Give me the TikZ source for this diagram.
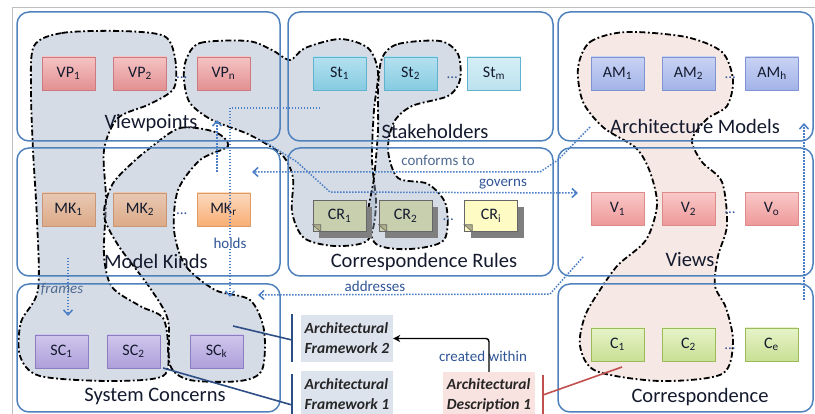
\documentclass[tikz,border=0pt]{standalone}
\usepackage{fontspec}
\setmainfont{Carlito}
\usetikzlibrary{positioning,arrows.meta,calc,shadows}

\definecolor{paneline}{HTML}{4F81BD}
\definecolor{relblue}{HTML}{4A7EC6}
\definecolor{labink}{HTML}{141A2E}
\definecolor{relink}{HTML}{2F5597}
\definecolor{relgrey}{HTML}{506A90}
\definecolor{afgrey}{HTML}{96A7C0}
\definecolor{adpink}{HTML}{E8C5BE}
\definecolor{vptop}{HTML}{F5C3C3}
\definecolor{vpbot}{HTML}{E39092}
\definecolor{vpedge}{HTML}{CC7A7D}
\definecolor{sttop}{HTML}{B3E1F0}
\definecolor{stbot}{HTML}{86CBE1}
\definecolor{stedge}{HTML}{5FB3CE}
\definecolor{amtop}{HTML}{C9D3F4}
\definecolor{ambot}{HTML}{A2B3E8}
\definecolor{amedge}{HTML}{7F93D3}
\definecolor{mktop}{HTML}{FCD9BE}
\definecolor{mkbot}{HTML}{F8AE74}
\definecolor{mkedge}{HTML}{E29A63}
\definecolor{mgtop}{HTML}{E8C8B2}
\definecolor{mgbot}{HTML}{DCAA88}
\definecolor{mgedge}{HTML}{C89677}
\definecolor{vwtop}{HTML}{FAC8C8}
\definecolor{vwbot}{HTML}{EE9898}
\definecolor{vwedge}{HTML}{DC8A8A}
\definecolor{sctop}{HTML}{CFC6EC}
\definecolor{scbot}{HTML}{AE9FDA}
\definecolor{scedge}{HTML}{8E7CC3}
\definecolor{cotop}{HTML}{E6F3C8}
\definecolor{cobot}{HTML}{C8E094}
\definecolor{coedge}{HTML}{9BBB59}
\definecolor{crfill}{HTML}{FFFBC4}
\definecolor{crgrey}{HTML}{C8CFAE}
\definecolor{crshade}{HTML}{7F7F7F}
\definecolor{afbox}{HTML}{DDE3ED}
\definecolor{adbox}{HTML}{F9E3E0}
\definecolor{afbar}{HTML}{2E4E86}
\definecolor{adbar}{HTML}{C0504D}

\newcommand\elemfont{\fontsize{16}{18}\selectfont}
\newcommand\panelfont{\fontsize{20.5}{24}\selectfont}
\newcommand\relfont{\fontsize{15}{17}\selectfont}
\newcommand\docfont{\fontsize{15.5}{20}\selectfont\bfseries\itshape}

\tikzset{
  panel/.style={draw=paneline, line width=1.5pt, rounded corners=12pt, minimum height=129pt, inner sep=0pt},
  elem/.style={draw=#1edge, top color=#1top, bottom color=#1bot, line width=0.8pt,
    minimum width=53pt, minimum height=33pt, inner sep=0pt, font=\elemfont, text=labink},
  crnote/.style={draw=black!60, fill=#1, line width=0.6pt, minimum width=53pt, minimum height=31pt,
    inner sep=0pt, font=\elemfont, text=labink,
    drop shadow={shadow xshift=6pt, shadow yshift=-7pt, fill=crshade, opacity=1}},
  gap/.style={font=\relfont, text=relink, inner sep=0pt},
  plabel/.style={font=\panelfont, text=labink, inner sep=0pt},
  rlabel/.style={font=\relfont, text=relink, inner sep=0pt},
  blob/.style={draw=black, line width=1.8pt, dash pattern=on 6pt off 2.5pt on 1.8pt off 2.5pt, fill opacity=0.4},
  rel/.style={draw=relblue, line width=1.5pt, dash pattern=on 1.5pt off 1.5pt,
    -{Straight Barb[length=5pt,width=9pt]}},
  docbox/.style={minimum width=92pt, minimum height=47pt, inner sep=0pt, align=left, font=\docfont, text=black!85},
  docbar/.style={line width=2.4pt},
}

\begin{document}
\begin{tikzpicture}[x=1pt,y=-1pt]
\useasboundingbox (0,0) rectangle (815,414);
\draw[black!25, line width=0.8pt] (12,414) -- (12,7) -- (815,7);

% Architectural framework 1
\fill[afgrey, blob] plot[smooth cycle] coordinates {(34,46) (62,33) (120,31) (164,36) (175,58) (174,88)
  (150,104) (118,118) (104,150) (106,200) (104,255) (112,287) (140,306) (163,318) (168,348) (163,376)
  (110,381) (40,376) (20,356) (21,322) (38,290) (37,220) (33,150) (31,90)};
% Architectural framework 2
\fill[afgrey, blob] plot[smooth cycle] coordinates {(186,60) (200,43) (248,41) (272,50) (290,60) (305,48)
  (340,39) (368,48) (378,72) (374,110) (372,160) (376,205) (368,240) (335,246) (304,238) (292,212)
  (293,178) (282,155) (250,135) (212,120) (190,103) (184,80)};
\fill[afgrey, blob] plot[smooth cycle] coordinates {(382,58) (398,44) (440,41) (458,54) (460,80) (448,96)
  (412,106) (394,122) (388,150) (398,178) (428,184) (446,205) (444,240) (410,249) (376,244) (368,215)
  (374,178) (378,130) (378,90)};
\fill[afgrey, blob] plot[smooth cycle] coordinates {(150,148) (180,128) (215,132) (228,146) (200,160)
  (178,190) (174,230) (185,265) (215,290) (250,300) (264,330) (262,370) (240,381) (190,380) (170,365)
  (168,320) (150,288) (118,245) (104,215) (112,185) (130,165)};
% Architectural description 1
\fill[adpink, blob] plot[smooth cycle] coordinates {(578,68) (590,42) (626,32) (686,37) (722,52) (733,80)
  (727,106) (707,119) (692,140) (702,162) (722,182) (727,225) (718,256) (715,286) (726,308) (733,342)
  (722,374) (660,381) (596,371) (580,346) (585,316) (600,290) (618,265) (646,240) (657,205) (650,172)
  (636,148) (604,128) (583,102)};

% Elements in the three columns
\node[elem=vp] (vp1) at (68.5,73.5) {VP\textsubscript{1}};
\node[elem=vp] (vp2) at (140,73.5) {VP\textsubscript{2}};
\node[elem=vp] (vpn) at (223.5,73.5) {VP\textsubscript{n}};
\node[elem=st] (st1) at (339.5,73.5) {St\textsubscript{1}};
\node[elem=st] (st2) at (410.5,73.5) {St\textsubscript{2}};
\node[elem=st, top color=sttop!55, bottom color=stbot!55] (stm) at (494,73.5) {St\textsubscript{m}};
\node[elem=am] (am1) at (617.5,73.5) {AM\textsubscript{1}};
\node[elem=am] (am2) at (688.5,73.5) {AM\textsubscript{2}};
\node[elem=am] (amh) at (772,73.5) {AM\textsubscript{h}};

\node[elem=mg] (mk1) at (68.5,209.5) {MK\textsubscript{1}};
\node[elem=mg] (mk2) at (140,209.5) {MK\textsubscript{2}};
\node[elem=mk] (mkr) at (223.5,209.5) {MK\textsubscript{r}};
\node[crnote=crgrey] (cr1) at (339.5,216) {CR\textsubscript{1}};
\node[crnote=crgrey] (cr2) at (405.5,216) {CR\textsubscript{2}};
\node[crnote=crfill] (cri) at (491,216) {CR\textsubscript{i}};
\foreach \n in {cr1,cr2,cri} {
  \draw[black!60, fill=crfill!70!black, line width=0.6pt]
    ($(\n.south west)+(0,-7)$) -- ($(\n.south west)+(8,-7)$) -- ($(\n.south west)+(8,0)$) -- cycle;
}
\node[elem=vw] (v1) at (617.5,209) {V\textsubscript{1}};
\node[elem=vw] (v2) at (688.5,209) {V\textsubscript{2}};
\node[elem=vw] (vo) at (771.5,209) {V\textsubscript{o}};

\node[elem=sc] (sc1) at (61.5,351.5) {SC\textsubscript{1}};
\node[elem=sc] (sc2) at (133.5,351.5) {SC\textsubscript{2}};
\node[elem=sc] (sck) at (216.5,351.5) {SC\textsubscript{k}};
\node[elem=co] (c1) at (617.5,344.5) {C\textsubscript{1}};
\node[elem=co] (c2) at (688.5,344.5) {C\textsubscript{2}};
\node[elem=co] (ce) at (771.5,344.5) {C\textsubscript{e}};

% Dots between elements
\node[gap] (dvp) at ($(vp2.east)!0.5!(vpn.west)+(0,4)$) {...};
\node[gap] (dst) at ($(st2.east)!0.5!(stm.west)+(0,4)$) {...};
\node[gap] (dam) at ($(am2.east)!0.5!(amh.west)+(0,4)$) {...};
\node[gap] (dmk) at ($(mk2.east)!0.5!(mkr.west)+(0,4)$) {...};
\node[gap] (dcr) at ($(cr2.east)!0.5!(cri.west)+(0,4)$) {...};
\node[gap] (dvw) at ($(v2.east)!0.5!(vo.west)+(0,4)$) {...};
\node[gap] (dco) at ($(c2.east)!0.5!(ce.west)+(0,4)$) {...};

% Panels
\node[panel, minimum width=263pt] (pvp) at (148.5,76.5) {};
\node[panel, minimum width=265pt] (pst) at (420.5,76.5) {};
\node[panel, minimum width=255pt] (pam) at (685.5,76.5) {};
\node[panel, minimum width=263pt, minimum height=128pt] (pmk) at (148.5,212) {};
\node[panel, minimum width=265pt, minimum height=128pt] (pcr) at (420.5,212) {};
\node[panel, minimum width=255pt, minimum height=128pt] (pvw) at (685.5,212) {};
\node[panel, minimum width=263pt, minimum height=128pt] (psc) at (148.5,348) {};
\node[panel, minimum width=255pt, minimum height=128pt] (pco) at (685.5,348) {};

\node[plabel] (lvp) at (151,123) {Viewpoints};
\node[plabel] (lst) at (435,131) {Stakeholders};
\node[plabel] (lam) at (695,126) {Architecture Models};
\node[plabel] (lmk) at (156,261) {Model Kinds};
\node[plabel] (lcr) at (424,262) {Correspondence Rules};
\node[plabel] (lvw) at (690,260) {Views};
\node[plabel] (lsc) at (155,397) {System Concerns};
\node[plabel] (lco) at (700,397) {Correspondence};

% Relations between panels
\coordinate (hold0) at (320,108);
\coordinate (hold1) at (230,297);
\draw[rel] (hold0) -| (hold1);
\node[rlabel, fill=white] (lholds) at (230,243) {holds};

\coordinate (frm0) at (68,258);
\coordinate (frm1) at (68,316);
\draw[rel] (frm0) -- (frm1);
\node[rlabel, text=relgrey, font=\relfont\itshape] (lframes) at (62,289) {frames};

\coordinate (cnf0) at (590,127);
\coordinate (cnf1) at (558,160);
\coordinate (cnf2) at (540,172);
\coordinate (cnf3) at (252,172);
\draw[rel] (cnf0) -- (cnf1) -- (cnf2) -- (cnf3);
\node[rlabel, text=relgrey] (lconf) at (438,160) {conforms to};
\coordinate (cvp0) at (217,172);
\coordinate (cvp1) at (217,120);
\draw[rel] (cvp0) -- (cvp1);

\coordinate (gov0) at (262,140);
\coordinate (gov1) at (297,162);
\coordinate (gov2) at (330,192);
\coordinate (gov3) at (578,193);
\draw[rel] (gov0) -- (gov1) -- (gov2) -- (gov3);
\node[rlabel] (lgov) at (503,184) {governs};

\coordinate (adr0) at (583,257);
\coordinate (adr1) at (550,294);
\coordinate (adr2) at (258,295);
\draw[rel] (adr0) -- (adr1) -- (adr2);
\node[rlabel] (ladr) at (375,286) {addresses};

\coordinate (cor0) at (804,300);
\coordinate (cor1) at (804,123);
\draw[rel] (cor0) -- (cor1);

% Framework and description boxes
\node[docbox, fill=afbox] (af2) at (347,338.5) {Architectural\\Framework 2};
\node[docbox, fill=afbox] (af1) at (347,394.5) {Architectural\\Framework 1};
\node[docbox, fill=adbox] (ad1) at (489,395.5) {Architectural\\Description 1};

\coordinate (af2bar) at (292,340);
\coordinate (af1bar) at (292,405);
\coordinate (adbar) at (543,395);
\coordinate (sckblob) at (233,326);
\coordinate (sc2blob) at (163,368);
\coordinate (c1blob) at (622,367);
\draw[afbar, docbar] (292,314) -- (292,362);
\draw[afbar, docbar] (292,374) -- (292,414);
\draw[adbar, docbar] (543,375) -- (543,414);
\draw[afbar, line width=1.6pt] (sckblob) -- (af2bar);
\draw[afbar, line width=1.6pt] (sc2blob) -- (af1bar);
\draw[adbar, line width=1.6pt] (adbar) -- (c1blob);

\node[rlabel, text=relink] (lcreated) at (483,356) {created within};
\draw[black, line width=1.4pt, rounded corners=3pt, -{Stealth[length=7pt,width=7pt]}] (ad1.north) |- (af2.east);
\end{tikzpicture}
\end{document}
